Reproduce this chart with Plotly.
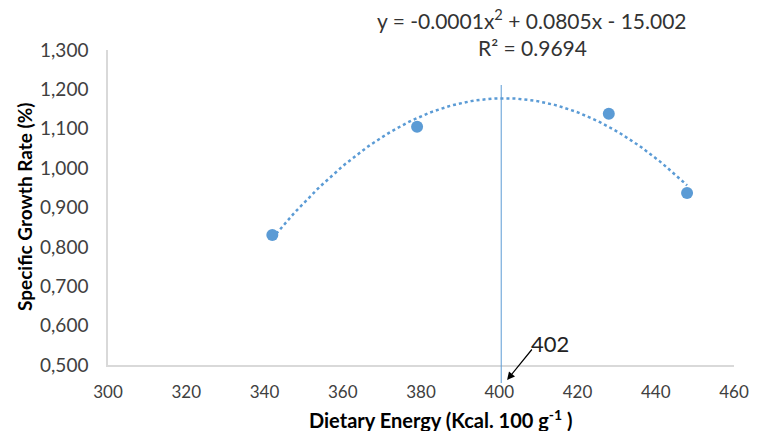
import numpy as np
import plotly.graph_objects as go

# Data
energy = [342, 379, 428, 448]
sgr = [0.830, 1.105, 1.138, 0.937]
x_ticks = [300, 320, 340, 360, 380, 400, 420, 440, 460]
y_ticks = [0.5, 0.6, 0.7, 0.8, 0.9, 1.0, 1.1, 1.2, 1.3]
optimum = 402
eq_line1 = "y = -0.0001x<sup>2</sup> + 0.0805x - 15.002"
eq_line2 = "R² = 0.9694"

# Trendline (2nd-order polynomial fit to data)
coef = np.polyfit(energy, sgr, 2)
xt = np.linspace(min(energy), max(energy), 120)
yt = np.polyval(coef, xt)

blue = "#5B9BD5"
font_family = "Lato, 'Open Sans', sans-serif"

OFF = 8  # page body margin
W, H = 758 - OFF, 439 - 2 * OFF
L, T = 100, 42
R = W - L - 626
B = H - T - 315
pw, ph = W - L - R, H - T - B


def px(xs):
    return (xs - OFF - L) / pw


def py(ys):
    return (H - B - (ys - OFF)) / ph


fig = go.Figure()
fig.add_trace(go.Scatter(x=xt, y=yt, mode="lines",
                         line=dict(color=blue, width=2.5, dash="dot"),
                         showlegend=False, hoverinfo="skip"))
fig.add_trace(go.Scatter(x=energy, y=sgr, mode="markers",
                         marker=dict(color=blue, size=12),
                         showlegend=False))

# vertical line at optimum
fig.add_shape(type="line", x0=400.5, x1=400.5, y0=py(383), y1=py(85),
              xref="x", yref="paper", line=dict(color=blue, width=1))

fig.add_annotation(x=optimum, y=py(380), ax=26, ay=-32, axref="pixel", ayref="pixel",
                   xref="x", yref="paper", text="", showarrow=True,
                   arrowhead=2, arrowsize=1.3, arrowwidth=1.2, arrowcolor="#000")
fig.add_annotation(x=px(550), y=py(343), xref="paper", yref="paper", text=str(optimum),
                   showarrow=False, xanchor="center", yanchor="middle",
                   font=dict(size=22, color="#222", family=font_family))

fig.add_annotation(x=px(532), y=py(19), xref="paper", yref="paper",
                   text=eq_line1, showarrow=False, xanchor="center", yanchor="middle",
                   font=dict(size=21, color="#333", family=font_family))
fig.add_annotation(x=px(532), y=py(47), xref="paper", yref="paper",
                   text=eq_line2, showarrow=False, xanchor="center", yanchor="middle",
                   font=dict(size=21, color="#333", family=font_family))

# axis titles
fig.add_annotation(x=px(440), y=py(419), xref="paper", yref="paper",
                   text="<b>Dietary Energy (Kcal. 100 g<sup>-1</sup> )</b>", showarrow=False,
                   xanchor="center", yanchor="middle",
                   font=dict(size=20, color="#000", family=font_family))
fig.add_annotation(x=px(24), y=py(207), xref="paper", yref="paper",
                   text="<b>Specific Growth Rate (%)</b>", showarrow=False, textangle=-90,
                   xanchor="center", yanchor="middle",
                   font=dict(size=19, color="#000", family=font_family))

fig.update_layout(
    width=W, height=H,
    margin=dict(l=L, r=R, t=T, b=B),
    paper_bgcolor="white", plot_bgcolor="white",
    separators=",.",
    font=dict(family=font_family, color="#404040"),
    xaxis=dict(range=[300, 460], tickvals=x_ticks, showgrid=False, zeroline=False,
               showline=True, linecolor="#D9D9D9", linewidth=1.5, automargin=False,
               ticks="outside", ticklen=11, tickcolor="rgba(0,0,0,0)",
               tickfont=dict(size=17, color="#404040")),
    yaxis=dict(range=[0.5, 1.3], tickvals=y_ticks, tickformat=".3f", showgrid=False,
               zeroline=False, showline=True, linecolor="#D9D9D9", linewidth=1.5,
               automargin=False,
               ticks="outside", ticklen=14, tickcolor="rgba(0,0,0,0)",
               tickfont=dict(size=19, color="#404040")),
)

fig.write_html("out.html")
